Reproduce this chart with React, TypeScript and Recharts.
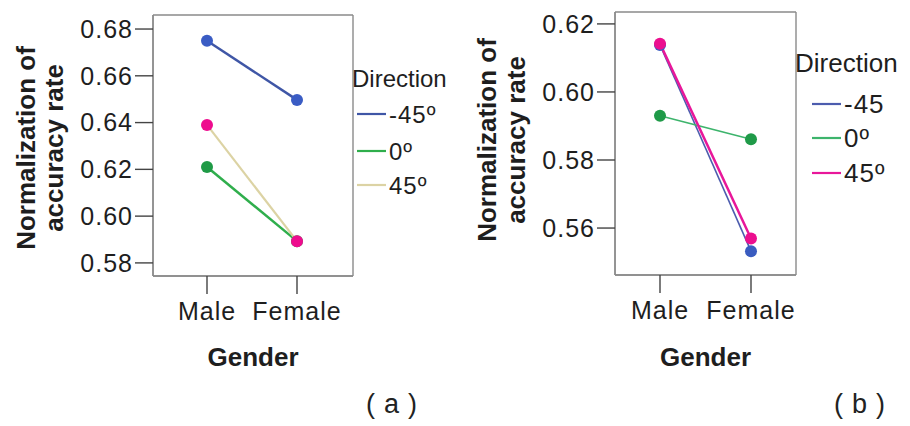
import React from "react";
import { LineChart, Line, XAxis, YAxis, Legend, CartesianGrid } from "recharts";

// categories
const genders = ["Male", "Female"];

// (a) series values
const aMinus45 = [0.675, 0.6497];
const aZero = [0.621, 0.5893];
const a45 = [0.639, 0.5893];
const aTicks = [0.58, 0.6, 0.62, 0.64, 0.66, 0.68];
const aNames = ["-45º", "0º", "45º"];

// (b)
const bMinus45 = [0.6138, 0.5532];
const bZero = [0.593, 0.5861];
const b45 = [0.6142, 0.5569];
const bTicks = [0.56, 0.58, 0.6, 0.62];
const bNames = ["-45", "0º", "45º"];

const FONT = "'Liberation Sans', Arial, sans-serif";
const INK = "#1e1e1e";
const FRAME = "#8a8a8a";

type Series = { key: string; name: string; line: string; dot: string; width: number };

const seriesA: Series[] = [
  { key: "m45", name: aNames[0], line: "#3f56a6", dot: "#3a5cc4", width: 2.5 },
  { key: "z", name: aNames[1], line: "#2fae4c", dot: "#1f9a46", width: 2.5 },
  { key: "p45", name: aNames[2], line: "#dcd3a4", dot: "#ee0c8e", width: 2.2 },
];
const seriesB: Series[] = [
  { key: "m45", name: bNames[0], line: "#4c5cae", dot: "#3a5cc0", width: 1.6 },
  { key: "z", name: bNames[1], line: "#3db46c", dot: "#1f9a48", width: 1.6 },
  { key: "p45", name: bNames[2], line: "#e8179a", dot: "#ec0f8f", width: 2.5 },
];

const build = (m45: number[], z: number[], p45: number[]) =>
  genders.map((g, i) => ({ gender: g, m45: m45[i], z: z[i], p45: p45[i] }));

const dataA = build(aMinus45, aZero, a45);
const dataB = build(bMinus45, bZero, b45);

function YTitle({ lx1, lx2, midY }: { lx1: number; lx2: number; midY: number }) {
  const st = { fontFamily: FONT, fontSize: 26, fontWeight: 700, fill: INK } as const;
  return (
    <g>
      <text x={lx1} y={midY} transform={`rotate(-90 ${lx1} ${midY})`} textAnchor="middle" {...st}>
        Normalization of
      </text>
      <text x={lx2} y={midY} transform={`rotate(-90 ${lx2} ${midY})`} textAnchor="middle" {...st}>
        accuracy rate
      </text>
    </g>
  );
}

function XTitle({ midX, baseY }: { midX: number; baseY: number }) {
  return (
    <text x={midX} y={baseY} textAnchor="middle" fontFamily={FONT} fontSize={26} fontWeight={700} fill={INK}>
      Gender
    </text>
  );
}

function LegendBox({ series, lineX, rows, size }: { series: Series[]; lineX: number; rows: number[]; size: number }) {
  const half = size * 0.36;
  return (
    <svg width={125} height={150} style={{ overflow: "visible" }}>
      <text x={0} y={18 + half} fontFamily={FONT} fontSize={size} fill={INK}>
        Direction
      </text>
      {series.map((s, i) => (
        <g key={s.key}>
          <line x1={lineX} x2={lineX + 29} y1={rows[i]} y2={rows[i]} stroke={s.line} strokeWidth={2.2} />
          <text x={lineX + 32} y={rows[i] + half} fontFamily={FONT} fontSize={size} letterSpacing={1} fill={INK}>
            {s.name}
          </text>
        </g>
      ))}
    </svg>
  );
}

type PanelProps = {
  data: typeof dataA;
  series: Series[];
  domain: [number, number];
  ticks: number[];
  plotLeft: number;
  plotRight: number;
  plotTop: number;
  plotBottom: number;
  padL: number;
  padR: number;
  titleX: [number, number];
  titleY: number;
  legendPos: { left: number; top: number };
  legendLineX: number;
  legendRows: number[];
  legendSize: number;
};

const W = 455;
const H = 426;

function Panel(p: PanelProps) {
  const tick = { fontSize: 25, fill: INK, fontFamily: FONT, letterSpacing: 1 };
  const cx = (p.plotLeft + p.plotRight) / 2;
  return (
    <LineChart
      width={W}
      height={H}
      data={p.data}
      margin={{ top: p.plotTop, right: W - p.plotRight, bottom: 0, left: 0 }}
    >
      <CartesianGrid
        stroke={FRAME}
        strokeWidth={1.4}
        horizontalCoordinatesGenerator={({ offset }: any) => [offset.top, offset.top + offset.height]}
        verticalCoordinatesGenerator={({ offset }: any) => [offset.left, offset.left + offset.width]}
      />
      <XAxis
        dataKey="gender"
        height={H - p.plotBottom}
        padding={{ left: p.padL, right: p.padR }}
        tickSize={18}
        tickMargin={8}
        tick={tick}
        tickLine={{ stroke: "#444", strokeWidth: 1.4 }}
        axisLine={{ stroke: FRAME, strokeWidth: 1.4 }}
        label={<XTitle midX={cx} baseY={366} />}
      />
      <YAxis
        width={p.plotLeft}
        domain={p.domain}
        ticks={p.ticks}
        allowDataOverflow
        tickSize={18}
        tickMargin={2}
        tick={tick}
        tickLine={{ stroke: "#444", strokeWidth: 1.4 }}
        axisLine={{ stroke: FRAME, strokeWidth: 1.4 }}
        tickFormatter={(v: number) => v.toFixed(2)}
        label={<YTitle lx1={p.titleX[0]} lx2={p.titleX[1]} midY={p.titleY} />}
      />
      <Legend
        layout="vertical"
        align="center"
        verticalAlign="middle"
        wrapperStyle={{ left: p.legendPos.left, top: p.legendPos.top, width: 125, height: 150 }}
        content={() => (
          <LegendBox series={p.series} lineX={p.legendLineX} rows={p.legendRows} size={p.legendSize} />
        )}
      />
      {p.series.map((s) => (
        <Line
          key={s.key}
          dataKey={s.key}
          name={s.name}
          stroke={s.line}
          strokeWidth={s.width}
          dot={{ r: 6, fill: s.dot, stroke: s.dot, strokeWidth: 0 }}
          activeDot={false}
          isAnimationActive={false}
        />
      ))}
    </LineChart>
  );
}

const capStyle: React.CSSProperties = {
  position: "absolute",
  top: 389,
  width: 80,
  textAlign: "center",
  fontFamily: FONT,
  fontSize: 27,
  lineHeight: "30px",
  letterSpacing: 9,
  color: "#222",
};

export default function App() {
  return (
    <div style={{ position: "absolute", left: 0, top: 0, width: 910, height: 426, background: "#fff" }}>
      <div style={{ position: "absolute", left: 0, top: 0 }}>
        <Panel
          data={dataA}
          series={seriesA}
          domain={[0.5744, 0.686]}
          ticks={aTicks}
          plotLeft={153}
          plotRight={353}
          plotTop={15}
          plotBottom={276}
          padL={54}
          padR={56}
          titleX={[35, 63]}
          titleY={148}
          legendPos={{ left: 352, top: 60 }}
          legendLineX={5}
          legendRows={[54, 91, 125]}
          legendSize={24}
        />
      </div>
      <div style={{ position: "absolute", left: W, top: 0 }}>
        <Panel
          data={dataB}
          series={seriesB}
          domain={[0.5462, 0.6235]}
          ticks={bTicks}
          plotLeft={160}
          plotRight={341}
          plotTop={12}
          plotBottom={275}
          padL={45}
          padR={45}
          titleX={[41, 70]}
          titleY={140}
          legendPos={{ left: 340, top: 45 }}
          legendLineX={17}
          legendRows={[59, 93, 128]}
          legendSize={26}
        />
      </div>
      <div style={{ ...capStyle, left: 356 }}>(a)</div>
      <div style={{ ...capStyle, left: 824 }}>(b)</div>
    </div>
  );
}
